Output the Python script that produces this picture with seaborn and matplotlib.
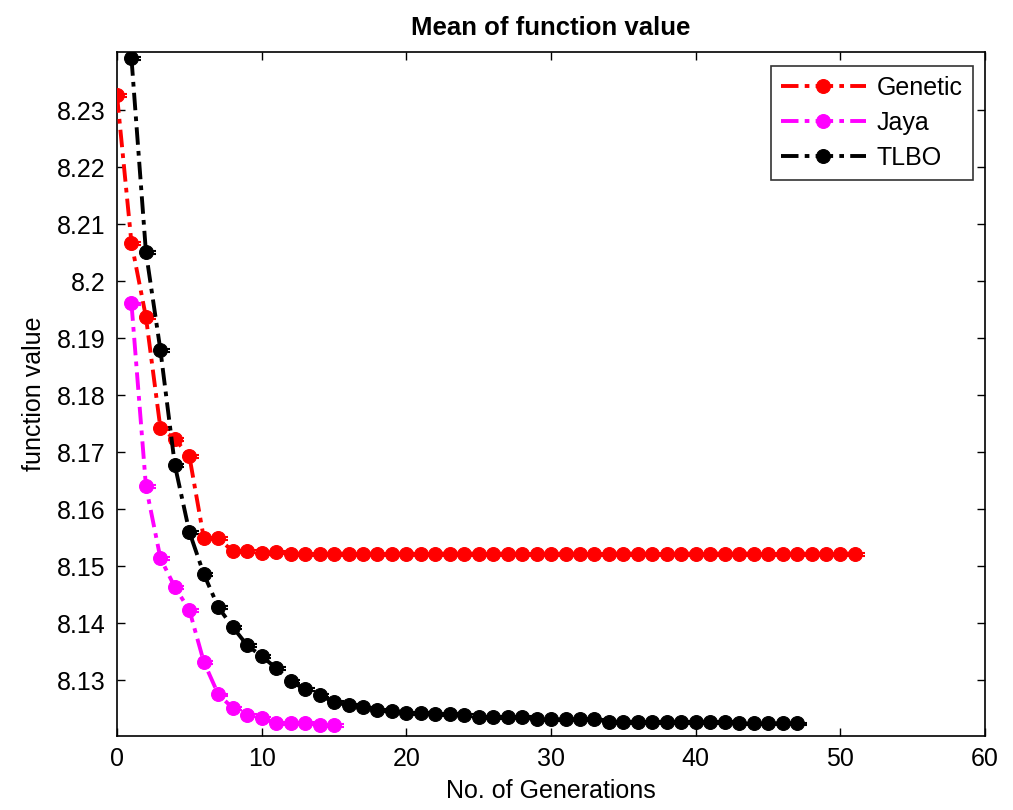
import numpy as np
import pandas as pd
import matplotlib
matplotlib.use("Agg")
import matplotlib.pyplot as plt
import seaborn as sns
from matplotlib.ticker import FuncFormatter

# ---------------- data ----------------
genetic_x = list(range(0, 52))
genetic_y = [8.2326, 8.2067, 8.1937, 8.1742, 8.1723, 8.1693, 8.1549, 8.1549,
             8.1526, 8.1526, 8.1523, 8.1525, 8.1522, 8.1522] + [8.1522] * 38

jaya_x = list(range(1, 16))
jaya_y = [8.1961, 8.1640, 8.1514, 8.1463, 8.1423, 8.1332, 8.1275, 8.1251,
          8.1239, 8.1233, 8.1225, 8.1225, 8.1225, 8.1221, 8.1221]

tlbo_x = list(range(1, 48))
tlbo_y = [8.2391, 8.2051, 8.1879, 8.1677, 8.1560, 8.1486, 8.1428, 8.1393,
          8.1361, 8.1342, 8.1321, 8.1298, 8.1284, 8.1274, 8.1261, 8.1256,
          8.1252, 8.1248, 8.1245, 8.1242, 8.1242, 8.1240, 8.1240, 8.1239,
          8.1236, 8.1236, 8.1235, 8.1235, 8.1231, 8.1231, 8.1231, 8.1232,
          8.1231, 8.1227, 8.1227, 8.1227, 8.1227, 8.1227, 8.1227, 8.1227,
          8.1227, 8.1227, 8.1224, 8.1224, 8.1224, 8.1224, 8.1224]

series_names = ["Genetic", "Jaya", "TLBO"]
series_colors = ["#ff0000", "#ff00ff", "#000000"]
error_half = [0.00025, 0.00025, 0.00025]

x_ticks = [0, 10, 20, 30, 40, 50, 60]
y_ticks = [8.13, 8.14, 8.15, 8.16, 8.17, 8.18, 8.19, 8.20, 8.21, 8.22, 8.23]

# ---------------- style ----------------
sns.set_style("ticks")
plt.rcParams["font.family"] = ["Liberation Sans", "DejaVu Sans"]
plt.rcParams["xtick.direction"] = "in"
plt.rcParams["ytick.direction"] = "in"
for k in ["text.color", "axes.labelcolor", "xtick.color", "ytick.color",
          "axes.edgecolor"]:
    plt.rcParams[k] = "black"

fig = plt.figure(figsize=(10.13, 8.10), dpi=100)
ax = fig.add_axes([0.1155, 0.0914, 0.857, 0.8444])

frames = []
for name, xs, ys in zip(series_names, [genetic_x, jaya_x, tlbo_x],
                        [genetic_y, jaya_y, tlbo_y]):
    frames.append(pd.DataFrame({"gen": xs, "val": ys, "algo": name}))
df = pd.concat(frames, ignore_index=True)

dash = (4.5, 1.6, 1.2, 1.6)
for name, col, err in zip(series_names, series_colors, error_half):
    sub = df[df["algo"] == name]
    ax.errorbar(sub["gen"] + 0.25, sub["val"] - 0.0001, yerr=err, fmt="none",
                ecolor=col, elinewidth=1.2, capsize=4, capthick=1.5, zorder=2)
    sns.lineplot(data=sub, x="gen", y="val", ax=ax, color=col, label=name,
                 linewidth=2.8, marker="o", markersize=10,
                 markeredgecolor=col, markerfacecolor=col, zorder=3,
                 dashes=False)
    ax.lines[-1].set_dashes(dash)

ax.set_xlim(0, 60)
ax.set_ylim(8.1202, 8.2402)
ax.set_xticks(x_ticks)
ax.set_yticks(y_ticks)
ax.yaxis.set_major_formatter(FuncFormatter(lambda v, p: f"{round(v, 2):g}"))
ax.tick_params(axis="both", which="major", labelsize=18, length=6, width=1,
               top=True, right=True, pad=8, colors="black")
for s in ax.spines.values():
    s.set_linewidth(1.2)
    s.set_color("black")

ax.set_xlabel("No. of Generations", fontsize=18, labelpad=6, color="black")
ax.set_ylabel("function value", fontsize=18, labelpad=8, color="black")
ax.set_title("Mean of function value", fontsize=18.5, fontweight="bold",
             pad=12, color="black")

leg = ax.legend(loc="upper right", bbox_to_anchor=(0.986, 0.98), fontsize=18,
                frameon=True, fancybox=False, edgecolor="black",
                handlelength=3.4, handletextpad=0.45, labelspacing=0.45,
                borderpad=0.4, borderaxespad=0)
leg.get_frame().set_linewidth(1.2)
for t in leg.get_texts():
    t.set_color("black")
for h in leg.get_lines():
    h.set_dashes(dash)

fig.savefig("out.png", dpi=100, facecolor="white")
